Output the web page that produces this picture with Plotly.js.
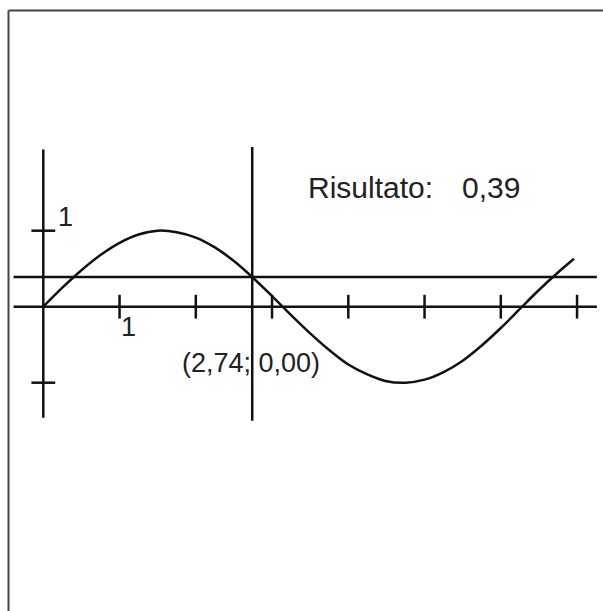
<!DOCTYPE html>
<html>
<head>
<meta charset="utf-8">
<script src="https://cdn.plot.ly/plotly-3.0.1.min.js"></script>
<style>html,body{margin:0;padding:0;background:#fff;}#chart{width:603px;height:611px;}</style>
</head>
<body>
<div id="chart"></div>
<script>
// curve points
const curveX = [0,0.25,0.5,0.75,1.0,1.25,1.5,1.75,2.0,2.25,2.5,2.75,3.0,3.25,3.5,3.75,4.0,4.25,4.5,4.75,5.0,5.25,5.5,5.75,6.0,6.25,6.5,6.75,6.96];
const curveY = [0,0.25,0.48,0.68,0.84,0.95,1.00,0.98,0.91,0.78,0.60,0.38,0.14,-0.11,-0.35,-0.57,-0.76,-0.89,-0.98,-1.00,-0.96,-0.86,-0.71,-0.51,-0.28,-0.03,0.22,0.45,0.63];
const xTicks = [1,2,3,4,5,6,7];
const yTicks = [1,-1];
const pointX = 2.74;
const pointY = 0.00;
const result = 0.39;
const resultLabel = "Risultato:";
const resultText = "0,39";
const pointText = "(2,74; 0,00)";
const tickLabel = "1";

const ink = '#111';
const traces = [
  {x: curveX, y: curveY, mode: 'lines', line: {color: ink, width: 2.5, shape: 'spline'}, hoverinfo: 'skip'},
  {x: xTicks, y: xTicks.map(() => 0), mode: 'markers', marker: {symbol: 'line-ns-open', size: 17, color: ink, line: {color: ink, width: 2.5}}, hoverinfo: 'skip'},
  {x: yTicks.map(() => 0), y: yTicks, mode: 'markers', marker: {symbol: 'line-ew-open', size: 17, color: ink, line: {color: ink, width: 2.5}}, hoverinfo: 'skip'}
];

const lineStyle = {color: ink, width: 2.5};
const shapes = [
  // frame (top and left edges)
  {type: 'line', xref: 'paper', yref: 'paper', x0: 8.5/603, x1: 1.01, y0: 1 - 10.5/611, y1: 1 - 10.5/611, line: {color: '#444', width: 2}},
  {type: 'line', xref: 'paper', yref: 'paper', x0: 8.5/603, x1: 8.5/603, y0: -0.01, y1: 1 - 10.5/611, line: {color: '#444', width: 2}},
  // x axis
  {type: 'line', x0: -0.39, x1: 7.26, y0: 0, y1: 0, line: lineStyle},
  // y axis
  {type: 'line', x0: 0, x1: 0, y0: -1.46, y1: 2.07, line: lineStyle},
  // horizontal result line
  {type: 'line', x0: -0.39, x1: 7.26, y0: result, y1: result, line: lineStyle},
  // vertical line at point
  {type: 'line', x0: pointX, x1: pointX, y0: -1.5, y1: 2.1, line: lineStyle}
];

const font = {family: 'Liberation Sans, Arial, sans-serif', size: 27, color: '#222'};
const bigFont = {family: 'Liberation Sans, Arial, sans-serif', size: 30, color: '#222'};
const annotations = [
  {x: 1.117, y: -0.27, text: tickLabel, showarrow: false, font: font, xanchor: 'center', yanchor: 'middle'},
  {x: 0.29, y: 1.18, text: tickLabel, showarrow: false, font: font, xanchor: 'center', yanchor: 'middle'},
  {x: pointX - 0.02, y: pointY - 0.74, text: pointText, showarrow: false, font: font, xanchor: 'center', yanchor: 'middle'},
  {x: 3.44, y: 1.57, text: resultLabel, showarrow: false, font: bigFont, xanchor: 'left', yanchor: 'middle'},
  {x: 5.47, y: 1.57, text: resultText, showarrow: false, font: bigFont, xanchor: 'left', yanchor: 'middle'}
];

const layout = {
  width: 603, height: 611,
  margin: {l: 0, r: 0, t: 0, b: 0, pad: 0},
  paper_bgcolor: '#fff', plot_bgcolor: '#fff',
  showlegend: false,
  xaxis: {range: [-43.3/76.25, (603-43.3)/76.25], visible: false, fixedrange: true},
  yaxis: {range: [(306.7-611)/76, 306.7/76], visible: false, fixedrange: true},
  shapes: shapes,
  annotations: annotations
};

Plotly.newPlot('chart', traces, layout, {staticPlot: true, displayModeBar: false});
</script>
</body>
</html>
